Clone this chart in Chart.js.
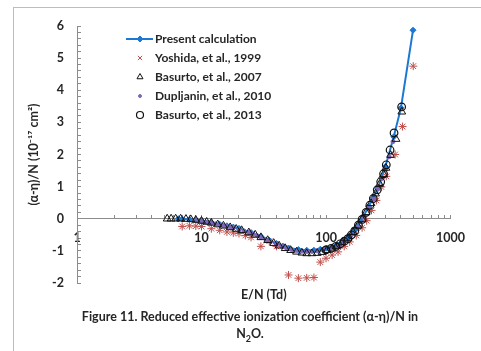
<!DOCTYPE html>
<html>
<head>
<meta charset="utf-8">
<script src="https://cdn.jsdelivr.net/npm/chart.js@4"></script>
<style>
  body { margin: 0; background: #fff; overflow: hidden; }
  #wrap { position: relative; width: 481px; height: 351px; }
  #frame { position: absolute; left: 13px; top: 7px; width: 500px; height: 400px; border: 1px solid #bdbdbd; }
  #cap { position: absolute; left: 15px; width: 470px; top: 308px; text-align: center;
         font: bold 12.5px Lato, "Noto Sans", sans-serif; line-height: 17px; color: #262626; }
  canvas { position: absolute; left: 0; top: 0; }
</style>
</head>
<body>
<div id="wrap">
  <div id="frame"></div>
  <canvas id="myChart" width="481" height="351"></canvas>
  <div id="cap">Figure 11. Reduced effective ionization coefficient (α-η)/N in<br>N<sub style="font-size:9px">2</sub>O.</div>
</div>
<script>
// E/N in Td, (alpha-eta)/N in 1e-17 cm2
const Present_en = [6.5, 7, 8, 9, 10, 12, 14, 16, 18, 20, 25, 30, 35, 40, 45, 50, 60, 70, 80, 90,
  100, 110, 120, 130, 140, 150, 160, 170, 180, 190, 200, 220, 240, 260, 280, 300, 350, 400, 500];
const Present_val = [0.0, -0.01, -0.02, -0.04, -0.06, -0.11, -0.17, -0.22, -0.26, -0.30, -0.43, -0.55, -0.67, -0.77, -0.85, -0.91, -0.96, -0.98, -0.98, -0.95,
  -0.92, -0.89, -0.85, -0.78, -0.69, -0.60, -0.48, -0.36, -0.22, -0.06, 0.08, 0.38, 0.65, 0.95, 1.28, 1.62, 2.55, 3.45, 5.87];

const Yoshida_en = [7, 8, 9, 10, 12, 14, 16, 18, 20, 22.5, 25, 30, 35, 40, 50, 60, 70, 80, 90,
  100, 112, 125, 140, 155, 175, 195, 212, 232, 254, 278, 305, 359, 412, 502];
const Yoshida_val = [-0.24, -0.22, -0.23, -0.24, -0.31, -0.36, -0.41, -0.44, -0.46, -0.52, -0.58, -0.86, -0.70, -0.86, -1.75, -1.85, -1.84, -1.83, -1.35,
  -1.23, -1.13, -1.03, -0.86, -0.72, -0.52, -0.28, -0.06, 0.26, 0.57, 0.99, 1.32, 2.0, 2.87, 4.75];

const Basurto07_en = [5.3, 5.7, 6.2, 6.8, 7.5, 8.2, 9, 10, 11, 12, 13.5, 15, 17, 19, 21, 24, 27, 30, 34, 38, 42, 47,
  52, 58, 64, 70, 77, 85, 93, 102, 112, 122, 135, 150, 165, 180, 195, 210, 230, 250, 270, 290, 303, 330, 365, 406];
const Basurto07_val = [0, 0, 0, 0, -0.01, -0.02, -0.04, -0.07, -0.10, -0.13, -0.18, -0.22, -0.27, -0.32, -0.36, -0.43, -0.50, -0.58, -0.67, -0.76, -0.84, -0.92,
  -0.98, -1.03, -1.06, -1.08, -1.08, -1.07, -1.04, -0.98, -0.93, -0.86, -0.74, -0.60, -0.42, -0.22, -0.02, 0.20, 0.48, 0.78, 1.08, 1.38, 1.58, 1.98, 2.48, 3.33];

const Dupljanin_en = [9, 10, 11, 12, 13, 14, 15, 16, 17, 18, 20, 22, 24, 26, 28, 30, 33, 36, 40, 44, 48, 53, 58, 64, 70, 77, 85, 95,
  110, 125, 140, 160, 180, 200, 220, 240, 260, 280, 300, 322, 345];
const Dupljanin_val = [-0.06, -0.08, -0.11, -0.13, -0.16, -0.19, -0.21, -0.24, -0.26, -0.28, -0.33, -0.38, -0.43, -0.48, -0.53, -0.58, -0.65, -0.71, -0.79, -0.86, -0.91, -0.96, -0.99, -1.01, -1.02, -1.02, -1.0, -0.95,
  -0.90, -0.82, -0.70, -0.50, -0.25, 0.05, 0.35, 0.62, 0.92, 1.25, 1.52, 1.93, 2.40];

const Basurto13_en = [100, 110, 120, 130, 140, 150, 160, 170, 182, 195, 210, 225, 240, 258, 275, 290, 305, 327, 352, 405];
const Basurto13_val = [-0.97, -0.92, -0.86, -0.78, -0.70, -0.62, -0.50, -0.38, -0.20, -0.02, 0.20, 0.42, 0.63, 0.90, 1.15, 1.40, 1.68, 2.14, 2.67, 3.48];

const X_labels = [1, 10, 100, 1000];
const Font = 'Lato, "Noto Sans", sans-serif';

function pts(xs, ys) {
  return xs.map((x, i) => ({x: x, y: ys[i]}));
}

// legend drawn inside the plot, one row per dataset
const inner_legend = {
  id: 'inner_legend',
  afterDraw(chart) {
    const ctx = chart.ctx;
    const area = chart.chartArea;
    const x0 = area.left + 49;
    const y0 = area.top + 13;
    ctx.save();
    ctx.font = 'bold 12px ' + Font;
    ctx.textBaseline = 'middle';
    chart.data.datasets.forEach((ds, i) => {
      const y = y0 + i * 19;
      const cx = x0 + 14;
      if (ds.showLine) {
        ctx.strokeStyle = ds.borderColor;
        ctx.lineWidth = 2;
        ctx.beginPath();
        ctx.moveTo(x0, y);
        ctx.lineTo(x0 + 27, y);
        ctx.stroke();
      }
      ctx.fillStyle = ds.pointBackgroundColor;
      ctx.strokeStyle = ds.pointBorderColor;
      ctx.lineWidth = ds.pointBorderWidth;
      Chart.helpers.drawPoint(ctx, {
        pointStyle: ds.legendStyle || ds.pointStyle, radius: ds.legendRadius,
        rotation: 0, borderWidth: ds.pointBorderWidth
      }, cx, y);
      ctx.fillStyle = '#262626';
      ctx.fillText(ds.label, x0 + 29, y);
    });
    ctx.restore();
  }
};

const chart = new Chart('myChart', {
  type: 'scatter',
  data: {
    datasets: [{
      label: 'Present calculation',
      data: pts(Present_en, Present_val),
      showLine: true, borderColor: '#1c78d0', borderWidth: 2,
      pointStyle: 'rectRot', pointRadius: 3, legendRadius: 3,
      pointBackgroundColor: '#1c78d0', pointBorderColor: '#1c78d0', pointBorderWidth: 1,
      order: 5,
    }, {
      label: 'Yoshida, et al., 1999',
      data: pts(Yoshida_en, Yoshida_val),
      pointStyle: 'star', pointRadius: 4, legendStyle: 'crossRot', legendRadius: 3,
      pointBackgroundColor: '#c0504d', pointBorderColor: '#c0504d', pointBorderWidth: 1,
      order: 4,
    }, {
      label: 'Basurto, et al., 2007',
      data: pts(Basurto07_en, Basurto07_val),
      pointStyle: 'triangle', pointRadius: 4.5, legendRadius: 3.5,
      pointBackgroundColor: 'rgba(0,0,0,0)', pointBorderColor: '#111', pointBorderWidth: 1,
      order: 2,
    }, {
      label: 'Dupljanin, et al., 2010',
      data: pts(Dupljanin_en, Dupljanin_val),
      pointStyle: 'circle', pointRadius: 2, legendRadius: 1.5,
      pointBackgroundColor: '#7b68b8', pointBorderColor: '#7b68b8', pointBorderWidth: 1,
      order: 3,
    }, {
      label: 'Basurto, et al., 2013',
      data: pts(Basurto13_en, Basurto13_val),
      pointStyle: 'circle', pointRadius: 3.8, legendRadius: 3.5,
      pointBackgroundColor: 'rgba(0,0,0,0)', pointBorderColor: '#111', pointBorderWidth: 1.2,
      order: 1,
    }]
  },
  options: {
    responsive: false,
    animation: false,
    layout: {padding: {left: 0, right: 20, top: 26, bottom: 68}},
    plugins: {legend: {display: false}, tooltip: {enabled: false}},
    scales: {
      x: {
        type: 'logarithmic', min: 1, max: 1000,
        position: {y: 0},
        border: {color: '#8c8c8c', width: 1},
        grid: {drawOnChartArea: false, drawTicks: true, tickLength: -4, color: '#8c8c8c'},
        ticks: {
          autoSkip: false, maxRotation: 0, padding: 16, color: '#262626',
          font: {family: Font, size: 12.5, weight: 'bold'},
          callback: v => X_labels.includes(v) ? String(v) : '',
        },
        title: {display: true, text: 'E/N (Td)', color: '#262626', padding: 0,
                font: {family: Font, size: 12.5, weight: 'bold'}},
        afterFit: s => { s.height = 84; },
      },
      y: {
        min: -2, max: 6,
        border: {color: '#8c8c8c', width: 1},
        grid: {drawOnChartArea: false, drawTicks: true, tickLength: -4, color: '#8c8c8c'},
        ticks: {
          stepSize: 0.2, autoSkip: false, padding: 17, color: '#262626',
          font: {family: Font, size: 12.5, weight: 'bold'},
          callback: v => Math.abs(v - Math.round(v)) < 1e-6 ? String(Math.round(v)) : '',
        },
        title: {display: true, text: '(α-η)/N (10⁻¹⁷ cm²)', color: '#262626', padding: {top: 26, bottom: 0},
                font: {family: Font, size: 12.5, weight: 'bold'}},
        afterFit: s => { s.width = 77; },
      },
    },
  },
  plugins: [inner_legend],
});
</script>
</body>
</html>
